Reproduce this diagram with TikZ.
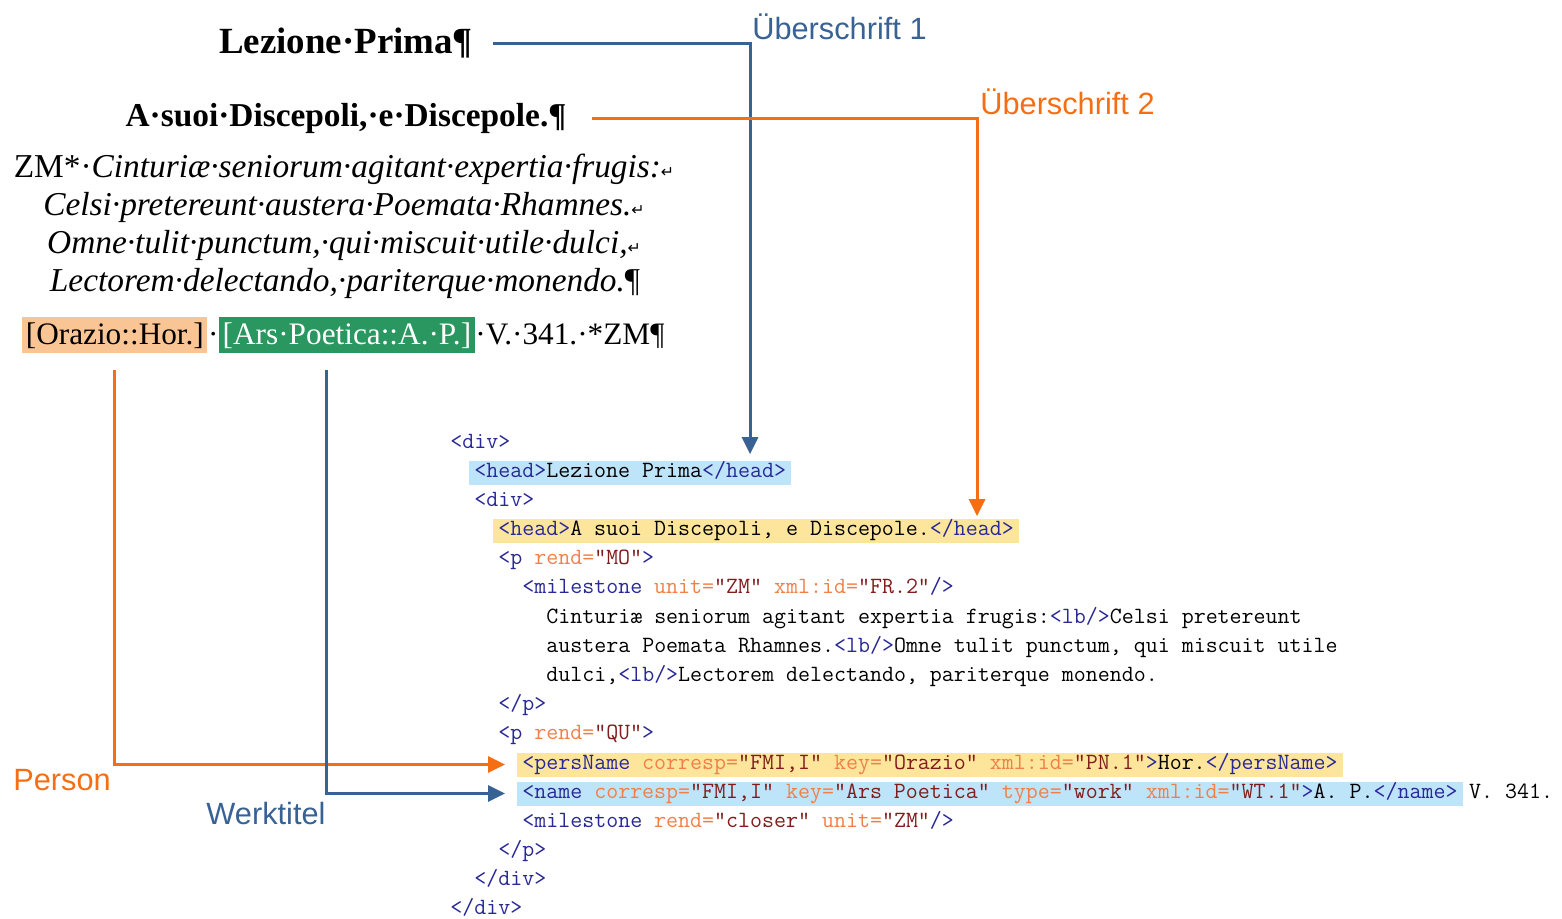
\documentclass[tikz,border=0pt]{standalone}
\usepackage{fontspec}
\setmainfont{Liberation Serif}
\setsansfont{Liberation Sans}
\newfontfamily\dvsfont{DejaVu Sans}
\usetikzlibrary{positioning, arrows.meta}

\definecolor{lineblue}{RGB}{56,98,148}
\definecolor{lineorange}{RGB}{245,110,20}
\definecolor{hlblue}{RGB}{190,228,250}
\definecolor{hlyellow}{RGB}{253,229,155}
\definecolor{perspeach}{RGB}{250,197,148}
\definecolor{workgreen}{RGB}{42,150,96}
\definecolor{tagblue}{RGB}{40,40,150}
\definecolor{attorange}{RGB}{240,128,72}
\definecolor{valred}{RGB}{128,28,28}

\newcommand{\xtag}[1]{\textcolor{tagblue}{#1}}
\newcommand{\xatt}[1]{\textcolor{attorange}{#1}}
\newcommand{\xval}[1]{\textcolor{valred}{#1}}
\newcommand{\retsym}{{\upshape\dvsfont\fontsize{9}{9}\selectfont ↵}}

\begin{document}
\begin{tikzpicture}[x=0.02cm, y=-0.02cm,
    heading/.style={font=\bfseries\fontsize{21}{24}\selectfont, inner sep=0pt, anchor=base},
    verse/.style={font=\fontsize{19}{22}\selectfont, inner sep=0pt, anchor=base},
    markbox/.style={font=\fontsize{17.8}{22}\selectfont, inner xsep=2pt, inner ysep=0pt, minimum height=0.72cm},
    code/.style={font=\ttfamily\frenchspacing\fontsize{13.25}{15}\selectfont, inner sep=0pt,
                 text height=8.5pt, text depth=2.5pt, anchor=west, yshift=-0.05cm},
    hlcode/.style={code, inner xsep=0.1cm, minimum height=0.48cm},
    annot/.style={font=\sffamily\fontsize{17.5}{20}\selectfont, inner sep=0pt},
    arrow/.style={-{Triangle[length=0.34cm, width=0.32cm]}, line width=1.7pt}
]
    \useasboundingbox (0,0) rectangle (1562,919);

    % Word document
    \node[heading] (lez) at (346,54) {Lezione·Prima¶};
    \node[heading, font=\bfseries\fontsize{19}{24}\selectfont] (disc) at (346,127) {A·suoi·Discepoli,·e·Discepole.¶};

    \node[verse] (v1) at (344,177) {ZM*·\textit{Cinturiæ·seniorum·agitant·expertia·frugis:}\retsym};
    \node[verse] (v2) at (344,215) {\textit{Celsi·pretereunt·austera·Poemata·Rhamnes.}\retsym};
    \node[verse] (v3) at (344,253) {\textit{Omne·tulit·punctum,·qui·miscuit·utile·dulci,}\retsym};
    \node[verse] (v4) at (345,291) {\textit{Lectorem·delectando,·pariterque·monendo.}¶};

    \node[markbox, fill=perspeach, anchor=base west] (pers) at (22,344) {[Orazio::Hor.]};
    \node[verse, font=\fontsize{17.8}{22}\selectfont, base right=0pt of pers] (dot1) {·};
    \node[markbox, fill=workgreen, text=white, base right=0pt of dot1] (work) {[Ars·Poetica::A.·P.]};
    \node[verse, font=\fontsize{17.8}{22}\selectfont, base right=0pt of work] (ref) {·V.·341.·*ZM¶};

    % XML
    \node[code] (divo) at (450,441) {\xtag{<div>}};
    \node[hlcode, fill=hlblue] (head1) at (469,470) {\xtag{<head>}Lezione Prima\xtag{</head>}};
    \node[code] (divi) at (474,499) {\xtag{<div>}};
    \node[hlcode, fill=hlyellow] (head2) at (493,528) {\xtag{<head>}A suoi Discepoli, e Discepole.\xtag{</head>}};
    \node[code] (pmo) at (498,557) {\xtag{<p} \xatt{rend=}\xval{"MO"}\xtag{>}};
    \node[code] (ms1) at (522,586) {\xtag{<milestone} \xatt{unit=}\xval{"ZM"} \xatt{xml:id=}\xval{"FR.2"}\xtag{/>}};
    \node[code] (txt1) at (546,616) {Cinturiæ seniorum agitant expertia frugis:\xtag{<lb/>}Celsi pretereunt};
    \node[code] (txt2) at (546,645) {austera Poemata Rhamnes.\xtag{<lb/>}Omne tulit punctum, qui miscuit utile};
    \node[code] (txt3) at (546,674) {dulci,\xtag{<lb/>}Lectorem delectando, pariterque monendo.};
    \node[code] (pend1) at (498,703) {\xtag{</p>}};
    \node[code] (pqu) at (498,732) {\xtag{<p} \xatt{rend=}\xval{"QU"}\xtag{>}};
    \node[hlcode, fill=hlyellow] (cpers) at (517,762) {\xtag{<persName} \xatt{corresp=}\xval{"FMI,I"} \xatt{key=}\xval{"Orazio"} \xatt{xml:id=}\xval{"PN.1"}\xtag{>}Hor.\xtag{</persName>}};
    \node[hlcode, fill=hlblue] (cname) at (517,791) {\xtag{<name} \xatt{corresp=}\xval{"FMI,I"} \xatt{key=}\xval{"Ars Poetica"} \xatt{type=}\xval{"work"} \xatt{xml:id=}\xval{"WT.1"}\xtag{>}A. P.\xtag{</name>}};
    \node[code, right=0.12cm of cname, yshift=0.05cm] (vers) {V. 341.};
    \node[code] (ms2) at (522,820) {\xtag{<milestone} \xatt{rend=}\xval{"closer"} \xatt{unit=}\xval{"ZM"}\xtag{/>}};
    \node[code] (pend2) at (498,849) {\xtag{</p>}};
    \node[code] (divic) at (474,878) {\xtag{</div>}};
    \node[code] (divoc) at (450,907) {\xtag{</div>}};

    % Labels
    \node[annot, text=lineblue, anchor=west] (ue1) at (752,27) {Überschrift 1};
    \node[annot, text=lineorange, anchor=west] (ue2) at (980,102) {Überschrift 2};
    \node[annot, text=lineorange] (lperson) at (62,780) {Person};
    \node[annot, text=lineblue] (lwork) at (266,814) {Werktitel};

    % Arrows
    \draw[arrow, lineblue, shorten <=0.4cm, shorten >=0.12cm] (lez.east) -| ([xshift=-0.04cm]ue1.west |- head1.north);
    \draw[arrow, lineorange, shorten <=0.5cm, shorten >=0.04cm] (disc.east) -| ([xshift=-0.06cm]ue2.west |- head2.north);
    \draw[arrow, lineorange, shorten <=0.32cm, shorten >=0.24cm] (pers.south) |- (cpers.west);
    \draw[arrow, lineblue, shorten <=0.32cm, shorten >=0.24cm] ([xshift=-0.4cm]work.south) |- (cname.west);

\end{tikzpicture}
\end{document}
